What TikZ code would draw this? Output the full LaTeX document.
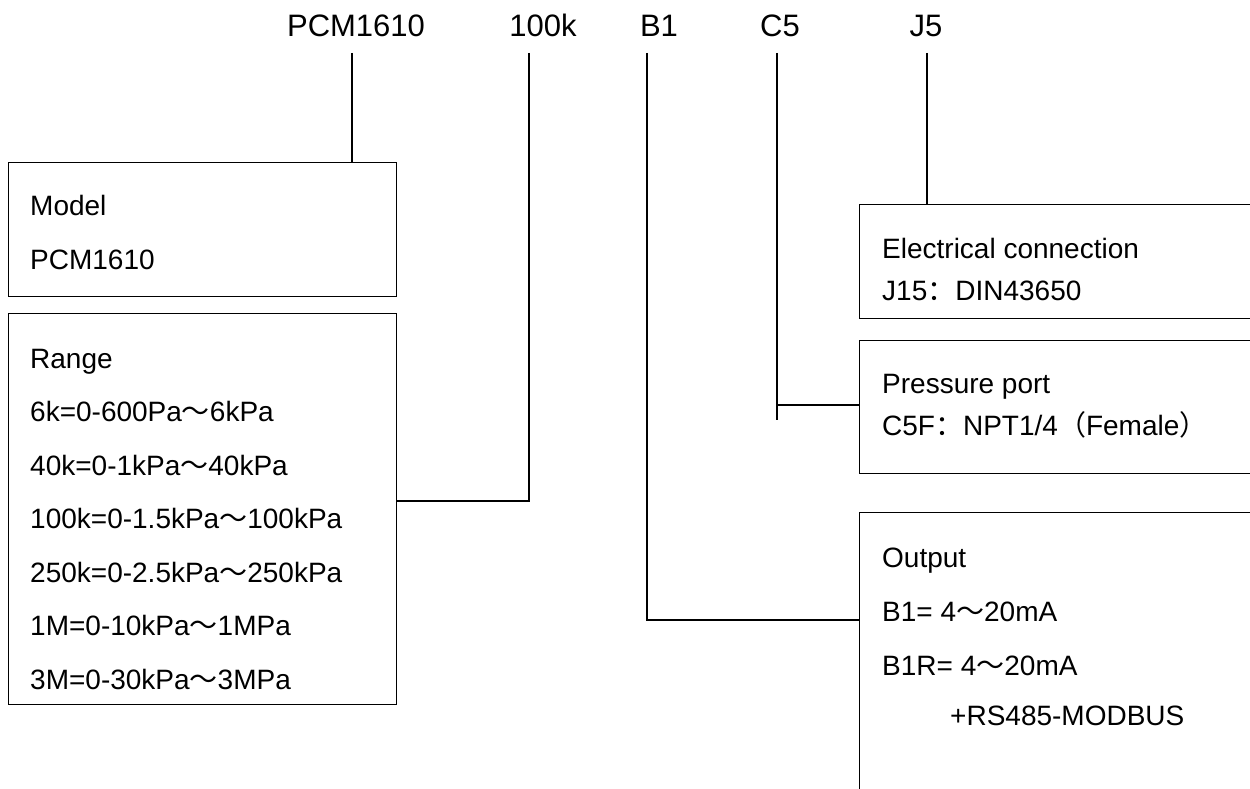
\documentclass[tikz,border=0pt]{standalone}
\usepackage{fontspec}
\setmainfont{Liberation Sans}
\newfontfamily\cjk{Noto Sans CJK SC}
\newcommand\mywave{{\cjk ～}}
\newcommand\mycolon{{\cjk ：}}
\newcommand\mylp{{\cjk （}}
\newcommand\myrp{{\cjk ）}}
\begin{document}
\begin{tikzpicture}[x=1pt,y=-1pt,
  box/.style={draw=black,line width=1.4pt,rectangle,inner sep=0pt,anchor=north west},
  txt/.style={anchor=base west,inner sep=0pt,font=\fontsize{28}{28}\selectfont},
  lbl/.style={anchor=base,inner sep=0pt,font=\fontsize{31}{31}\selectfont},
  conn/.style={line width=1.4pt}]
\useasboundingbox (0,0) rectangle (1250,789);
\clip (0,0) rectangle (1250,789);
% top labels
\node[lbl] (lpcm) at (356,37) {PCM1610};
\node[lbl] (lk) at (543,37) {100k};
\node[lbl] (lb) at (659,37) {B1};
\node[lbl] (lc) at (780,37) {C5};
\node[lbl] (lj) at (926,37) {J5};
% boxes
\node[box,minimum width=388pt,minimum height=134pt] (model) at (8,162) {};
\node[box,minimum width=388pt,minimum height=391pt] (range) at (8,313) {};
\node[box,minimum width=420pt,minimum height=114pt] (elec) at (859,204) {};
\node[box,minimum width=420pt,minimum height=133pt] (port) at (859,340) {};
\node[box,minimum width=420pt,minimum height=320pt] (out) at (859,512) {};
% model text
\node[txt] (m1) at (30,215) {Model};
\node[txt] (m2) at (30,269) {PCM1610};
% range text
\node[txt] (r0) at (30,368) {Range};
\node[txt] (r1) at (30,421.5) {6k=0-600Pa\mywave 6kPa};
\node[txt] (r2) at (30,475) {40k=0-1kPa\mywave 40kPa};
\node[txt] (r3) at (30,528.5) {100k=0-1.5kPa\mywave 100kPa};
\node[txt] (r4) at (30,582) {250k=0-2.5kPa\mywave 250kPa};
\node[txt] (r5) at (30,635.5) {1M=0-10kPa\mywave 1MPa};
\node[txt] (r6) at (30,689) {3M=0-30kPa\mywave 3MPa};
% right texts
\node[txt] (e1) at (882,258) {Electrical connection};
\node[txt] (e2) at (882,300) {J15\mycolon DIN43650};
\node[txt] (p1) at (882,393) {Pressure port};
\node[txt] (p2) at (882,435) {C5F\mycolon NPT1/4\mylp Female\myrp};
\node[txt] (o1) at (882,567) {Output};
\node[txt] (o2) at (882,621) {B1= 4\mywave 20mA};
\node[txt] (o3) at (882,675) {B1R= 4\mywave 20mA};
\node[txt] (o4) at (950,725) {+RS485-MODBUS};
% connectors
\coordinate (cpcm) at (352,53);
\coordinate (ck) at (529,53);
\coordinate (cb) at (647,53);
\coordinate (cc) at (777,53);
\coordinate (cj) at (927,53);
\coordinate (kb) at (529,501);
\coordinate (bb) at (647,620);
\coordinate (cbend) at (777,405);
\coordinate (cend) at (777,420);
\draw[conn] (cpcm) -- ([yshift=-1pt]cpcm |- model.north);
\draw[conn] (ck) -- (kb) -- (kb -| range.east);
\draw[conn] (cb) -- (bb) -- (bb -| out.west);
\draw[conn] (cc) -- (cend);
\draw[conn] (cbend) -- (cbend -| port.west);
\draw[conn] (cj) -- (cj |- elec.north);
\end{tikzpicture}
\end{document}
